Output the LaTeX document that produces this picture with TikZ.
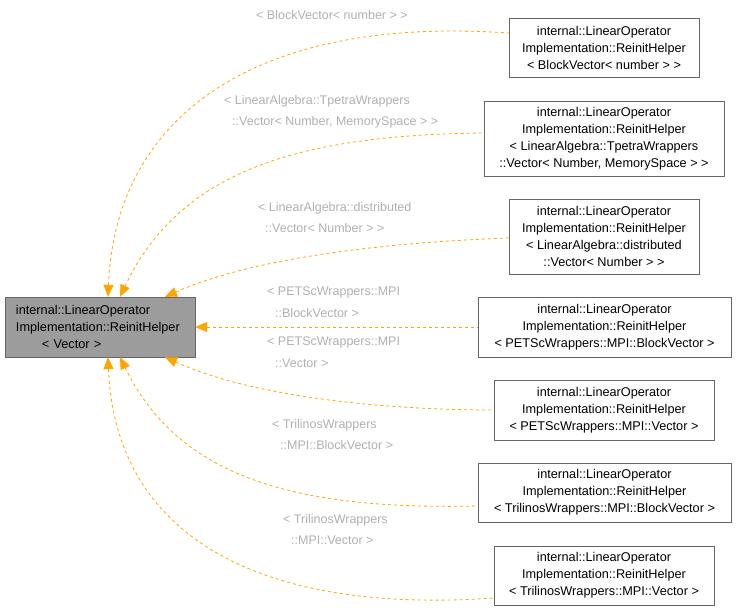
\documentclass[tikz,border=0pt]{standalone}
\usepackage{fontspec}
\setmainfont{Liberation Sans}
\usetikzlibrary{arrows.meta}
\definecolor{edgeorange}{HTML}{FFA500}
\definecolor{labelgray}{HTML}{B0B0B0}
\definecolor{boxgray}{HTML}{666666}
\tikzset{
  box/.style={draw=boxgray, align=center, inner sep=0pt,
    font=\fontsize{12.7}{17}\selectfont},
  edge/.style={edgeorange, dashed, line width=0.8pt,
    {Triangle[length=12pt,width=10pt]}-},
  lbl/.style={labelgray, anchor=north west, inner sep=0pt, align=left,
    font=\fontsize{12.5}{21.5}\selectfont}
}
\begin{document}
\begin{tikzpicture}[x=1pt,y=-1pt]
  \useasboundingbox (0,0) rectangle (736,611);

  % Base class
  \node[box, fill=boxgray!65, align=left, minimum width=190pt, minimum height=60pt,
    text width=168pt] (main) at (100,327)
    {internal::LinearOperator\\Implementation::ReinitHelper\\\hspace*{26pt}< Vector >};

  % Specialisations
  \node[box, minimum width=190pt, minimum height=59pt] (r1) at (604,47.5)
    {internal::LinearOperator\\Implementation::ReinitHelper\\< BlockVector< number > >};
  \node[box, minimum width=240pt, minimum height=75pt] (r2) at (604,138.5)
    {internal::LinearOperator\\Implementation::ReinitHelper\\< LinearAlgebra::TpetraWrappers\\::Vector< Number, MemorySpace > >};
  \node[box, minimum width=190pt, minimum height=75pt] (r3) at (604,236.5)
    {internal::LinearOperator\\Implementation::ReinitHelper\\< LinearAlgebra::distributed\\::Vector< Number > >};
  \node[box, minimum width=253pt, minimum height=60pt] (r4) at (604.5,327)
    {internal::LinearOperator\\Implementation::ReinitHelper\\< PETScWrappers::MPI::BlockVector >};
  \node[box, minimum width=220pt, minimum height=60pt] (r5) at (604,410)
    {internal::LinearOperator\\Implementation::ReinitHelper\\< PETScWrappers::MPI::Vector >};
  \node[box, minimum width=253pt, minimum height=59pt] (r6) at (604.5,492.5)
    {internal::LinearOperator\\Implementation::ReinitHelper\\< TrilinosWrappers::MPI::BlockVector >};
  \node[box, minimum width=220pt, minimum height=59pt] (r7) at (604,575.5)
    {internal::LinearOperator\\Implementation::ReinitHelper\\< TrilinosWrappers::MPI::Vector >};

  % Connectors
  \draw[edge] ([xshift=8pt]main.north) .. controls (115,120) and (250,15) .. ([yshift=14.5pt]r1.west);
  \draw[edge] ([xshift=20pt]main.north) .. controls (180,170) and (300,135) .. ([yshift=5.5pt]r2.west);
  \draw[edge] ([xshift=65pt]main.north) .. controls (260,255) and (400,242) .. ([yshift=-1.5pt]r3.west);
  \draw[edge] (main.east) -- (r4.west);
  \draw[edge] ([xshift=65pt]main.south) .. controls (260,400) and (400,410) .. (r5.west);
  \draw[edge] ([xshift=20pt]main.south) .. controls (180,480) and (300,510) .. ([yshift=-13.5pt]r6.west);
  \draw[edge] ([xshift=8pt]main.south) .. controls (115,530) and (250,615) .. ([yshift=-22.5pt]r7.west);

  % Labels
  \node[lbl] (l1) at (256,10) {< BlockVector< number > >};
  \node[lbl] (l2) at (224,95) {< LinearAlgebra::TpetraWrappers\\\hspace*{8pt}::Vector< Number, MemorySpace > >};
  \node[lbl] (l3) at (258,202) {< LinearAlgebra::distributed\\\hspace*{7pt}::Vector< Number > >};
  \node[lbl] (l4) at (267,287) {< PETScWrappers::MPI\\\hspace*{8pt}::BlockVector >};
  \node[lbl] (l5) at (267,337) {< PETScWrappers::MPI\\\hspace*{8pt}::Vector >};
  \node[lbl] (l6) at (272,419) {< TrilinosWrappers\\\hspace*{8pt}::MPI::BlockVector >};
  \node[lbl] (l7) at (283,514) {< TrilinosWrappers\\\hspace*{8pt}::MPI::Vector >};
\end{tikzpicture}
\end{document}
